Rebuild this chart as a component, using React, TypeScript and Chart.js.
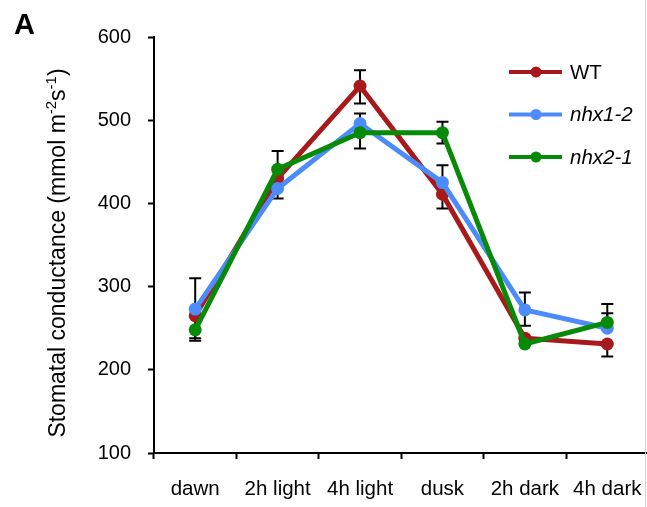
import React, { useEffect, useRef } from "react";
import { Chart, registerables } from "chart.js";

Chart.register(...registerables);

const categories = ["dawn", "2h light", "4h light", "dusk", "2h dark", "4h dark"];

const wtValues = [265, 430, 541, 411, 238, 231];
const wtErrUp = [0, 0, 19, 0, 0, 0];
const wtErrDown = [30, 0, 21, 17, 0, 15];

const nhx12Values = [273, 418, 496, 425, 272, 250];
const nhx12ErrUp = [37, 0, 12, 21, 21, 18];
const nhx12ErrDown = [0, 12, 0, 0, 19, 0];

const nhx21Values = [248, 441, 485, 485, 231, 257];
const nhx21ErrUp = [0, 22, 0, 13, 0, 22];
const nhx21ErrDown = [10, 0, 19, 13, 0, 0];

const yTicks = [100, 200, 300, 400, 500, 600];

const FONT = "'Liberation Sans', Arial, Helvetica, sans-serif";
const RED = "#A8191B";
const BLUE = "#4C8BFA";
const GREEN = "#078A07";

const errorBarPlugin = {
  id: "errorBars",
  beforeDatasetsDraw(chart: any) {
    const ctx = chart.ctx;
    const y = chart.scales.y;
    ctx.save();
    ctx.strokeStyle = "#000";
    ctx.lineWidth = 2;
    chart.data.datasets.forEach((ds: any, di: number) => {
      const meta = chart.getDatasetMeta(di);
      meta.data.forEach((pt: any, i: number) => {
        const v = ds.data[i];
        const cx = pt.x;
        const cy = y.getPixelForValue(v);
        const draw = (e: number) => {
          if (!e) return;
          const ey = y.getPixelForValue(v + e);
          ctx.beginPath();
          ctx.moveTo(cx, cy);
          ctx.lineTo(cx, ey);
          ctx.moveTo(cx - 6, ey);
          ctx.lineTo(cx + 6, ey);
          ctx.stroke();
        };
        draw(ds.errUp[i]);
        draw(-ds.errDown[i]);
      });
    });
    ctx.restore();
  },
};

const decorPlugin = {
  id: "decor",
  afterDraw(chart: any) {
    const ctx = chart.ctx;
    ctx.save();
    // panel letter
    ctx.fillStyle = "#000";
    ctx.font = `bold 29px ${FONT}`;
    ctx.textAlign = "left";
    ctx.textBaseline = "alphabetic";
    ctx.fillText("A", 14, 34);

    // y axis title with superscripts
    const mainFont = `23px ${FONT}`;
    const supFont = `15px ${FONT}`;
    const parts: [string, boolean][] = [
      ["Stomatal conductance (mmol m", false],
      ["-2", true],
      ["s", false],
      ["-1", true],
      [")", false],
    ];
    let total = 0;
    parts.forEach(([t, sup]) => {
      ctx.font = sup ? supFont : mainFont;
      total += ctx.measureText(t).width;
    });
    ctx.translate(65, 253);
    ctx.rotate(-Math.PI / 2);
    let x = -total / 2;
    parts.forEach(([t, sup]) => {
      ctx.font = sup ? supFont : mainFont;
      ctx.fillText(t, x, sup ? -9 : 0);
      x += ctx.measureText(t).width;
    });
    ctx.restore();

    // legend
    ctx.save();
    const items: [string, string, boolean][] = [
      ["WT", RED, false],
      ["nhx1-2", BLUE, true],
      ["nhx2-1", GREEN, true],
    ];
    items.forEach(([label, color, italic], i) => {
      const ly = 72 + i * 42.5;
      ctx.strokeStyle = color;
      ctx.lineWidth = 4;
      ctx.beginPath();
      ctx.moveTo(509, ly);
      ctx.lineTo(562, ly);
      ctx.stroke();
      ctx.fillStyle = color;
      ctx.beginPath();
      ctx.arc(536, ly, 5.5, 0, Math.PI * 2);
      ctx.fill();
      ctx.fillStyle = "#000";
      ctx.font = `${italic ? "italic " : ""}20.5px ${FONT}`;
      ctx.textAlign = "left";
      ctx.textBaseline = "middle";
      ctx.fillText(label, 570, ly + 1);
    });
    // faint right border
    ctx.strokeStyle = "#d4d4d4";
    ctx.lineWidth = 1;
    ctx.beginPath();
    ctx.moveTo(645.5, 0);
    ctx.lineTo(645.5, 507);
    ctx.stroke();
    ctx.restore();
  },
};

export default function App() {
  const ref = useRef<HTMLCanvasElement | null>(null);

  useEffect(() => {
    if (!ref.current) return;
    const mk = (label: string, data: number[], up: number[], down: number[], color: string, order: number) => ({
      label,
      data,
      errUp: up,
      errDown: down,
      borderColor: color,
      backgroundColor: color,
      pointBackgroundColor: color,
      pointBorderWidth: 0,
      pointRadius: 6.5,
      borderWidth: 5,
      tension: 0,
      order,
    });
    const chart = new Chart(ref.current, {
      type: "line",
      data: {
        labels: categories,
        datasets: [
          mk("WT", wtValues, wtErrUp, wtErrDown, RED, 3),
          mk("nhx1-2", nhx12Values, nhx12ErrUp, nhx12ErrDown, BLUE, 2),
          mk("nhx2-1", nhx21Values, nhx21ErrUp, nhx21ErrDown, GREEN, 1),
        ] as any,
      },
      options: {
        responsive: false,
        animation: false,
        layout: { padding: { top: 37, right: 0, left: 0, bottom: 0 } },
        plugins: {
          legend: { display: false },
          tooltip: { enabled: false },
          title: { display: false },
        },
        scales: {
          x: {
            type: "category",
            offset: true,
            afterFit: (s: any) => {
              s.height = 54;
              s.paddingLeft = 0;
              s.paddingRight = 0;
            },
            grid: {
              offset: true,
              drawOnChartArea: false,
              drawTicks: true,
              tickLength: 6,
              tickWidth: 2,
              tickColor: "#000",
            },
            border: { display: true, color: "#000", width: 2 },
            ticks: {
              color: "#000",
              font: { family: FONT, size: 20.5 },
              padding: 18,
              maxRotation: 0,
              autoSkip: false,
            },
          },
          y: {
            min: 100,
            max: 600,
            afterFit: (s: any) => {
              s.width = 154;
              s.paddingTop = 0;
              s.paddingBottom = 0;
            },
            afterBuildTicks: (s: any) => {
              s.ticks = yTicks.map((v) => ({ value: v }));
            },
            grid: {
              drawOnChartArea: false,
              drawTicks: true,
              tickLength: 6,
              tickWidth: 2,
              tickColor: "#000",
            },
            border: { display: true, color: "#000", width: 2 },
            ticks: {
              color: "#000",
              font: { family: FONT, size: 20 },
              padding: 17,
            },
          },
        },
      },
      plugins: [errorBarPlugin, decorPlugin],
    } as any);
    return () => chart.destroy();
  }, []);

  return (
    <div
      style={{
        position: "absolute",
        left: 0,
        top: 0,
        width: 647,
        height: 507,
        overflow: "hidden",
        background: "#fff",
      }}
    >
      <canvas ref={ref} width={655} height={507} style={{ display: "block" }} />
    </div>
  );
}
